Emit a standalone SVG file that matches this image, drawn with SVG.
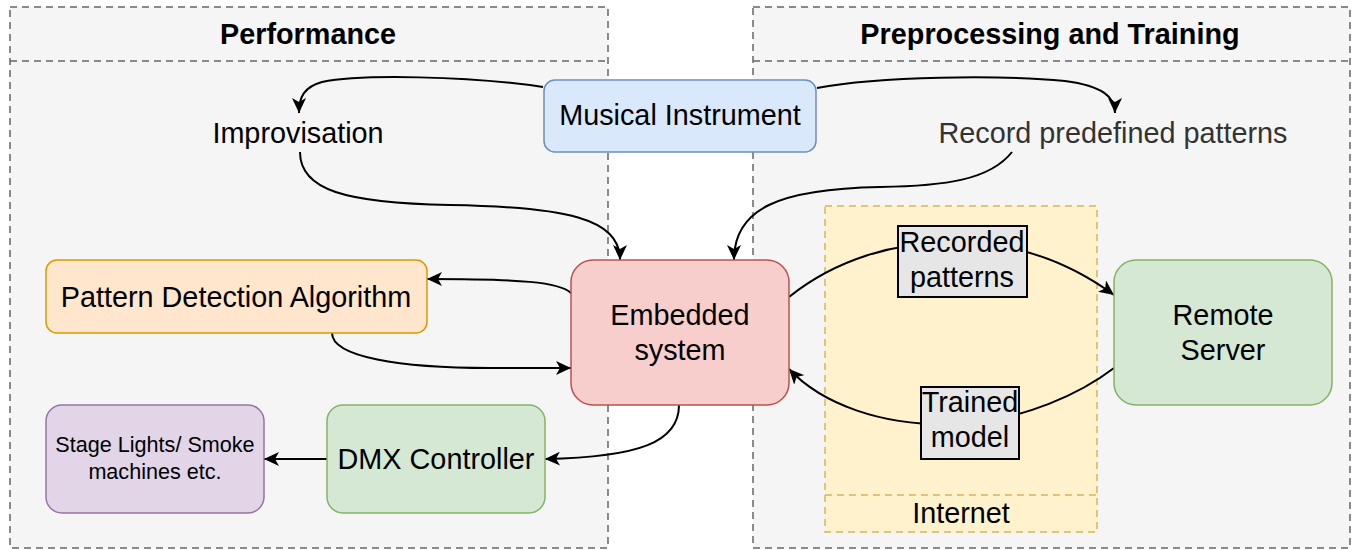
<svg xmlns="http://www.w3.org/2000/svg" width="1353" height="550" viewBox="0 0 1353 550">
  <style>
    .panel { fill: #f5f5f5; stroke: #666666; stroke-width: 1.5; stroke-dasharray: 7 5; }
    .title { font-family: "Liberation Sans", Arial, sans-serif; font-size: 28.8px; font-weight: bold; fill: #000; text-anchor: middle; }
    .txt { font-family: "Liberation Sans", Arial, sans-serif; font-size: 28.8px; fill: #000; text-anchor: middle; }
    .small { font-size: 21.6px; }
    .grey { fill: #333333; }
    .edge { fill: none; stroke: #000; stroke-width: 2; }
    .lbl { fill: #e6e6e6; stroke: #000; stroke-width: 2; }
    .net { fill: #fff2cc; stroke: #d6b656; stroke-width: 1.5; stroke-dasharray: 7 5; }
  </style>
  <defs>
    <marker id="arrow" markerUnits="userSpaceOnUse" markerWidth="16" markerHeight="14" viewBox="0 0 16 14" refX="15" refY="7" orient="auto">
      <path d="M0,0 L15,7 L0,14 L4,7 Z" fill="#000"/>
    </marker>
  </defs>

  <!-- swimlane: Performance -->
  <g id="lane-performance">
    <rect class="panel" x="10" y="7" width="598" height="541"/>
    <line x1="10" y1="61" x2="608" y2="61" stroke="#666666" stroke-width="1.5" stroke-dasharray="7 5"/>
    <text class="title" x="308" y="44">Performance</text>
  </g>

  <!-- swimlane: Preprocessing and Training -->
  <g id="lane-training">
    <rect class="panel" x="753" y="7" width="597" height="541"/>
    <line x1="753" y1="61" x2="1350" y2="61" stroke="#666666" stroke-width="1.5" stroke-dasharray="7 5"/>
    <text class="title" x="1050" y="44">Preprocessing and Training</text>
  </g>

  <!-- Internet container -->
  <g id="internet">
    <rect class="net" x="825" y="206" width="272" height="326"/>
    <line x1="825" y1="495" x2="1097" y2="495" stroke="#d6b656" stroke-width="1.5" stroke-dasharray="7 5"/>
    <text class="txt" x="961" y="523">Internet</text>
  </g>

  <!-- connectors -->
  <g id="connectors">
    <path class="edge" marker-end="url(#arrow)" d="M543,87 C470,76 360,74 322,82 C304,87 299,97 299,113"/>
    <path class="edge" marker-end="url(#arrow)" d="M817,88 C880,76 1000,75 1065,81 C1103,86 1115,97 1115,113"/>
    <path class="edge" marker-end="url(#arrow)" d="M300,152 C300,190 345,203 450,205 C565,207 620,218 620,260"/>
    <path class="edge" marker-end="url(#arrow)" d="M1012,152 C990,180 945,186 880,187 C780,189 734,208 734,260"/>
    <path class="edge" marker-end="url(#arrow)" d="M571,293 C560,282 520,279 427,279"/>
    <path class="edge" marker-end="url(#arrow)" d="M332,333 C332,357 400,368 490,368 L571,368"/>
    <path class="edge" marker-end="url(#arrow)" d="M679,405 C679,442 640,457 545,459"/>
    <path class="edge" marker-end="url(#arrow)" d="M327,459 L264,459"/>
    <path class="edge" marker-end="url(#arrow)" d="M789,297 C835,260 895,241 960,242 C1030,244 1080,270 1114,295"/>
    <path class="edge" marker-end="url(#arrow)" d="M1114,368 C1080,394 1025,419 962,424 C880,428 820,402 789,369"/>
  </g>

  <!-- edge labels -->
  <g id="label-recorded">
    <rect class="lbl" x="898" y="226" width="129" height="71"/>
    <text class="txt" x="962" y="252">Recorded</text>
    <text class="txt" x="962" y="287">patterns</text>
  </g>
  <g id="label-trained">
    <rect class="lbl" x="921" y="387" width="98" height="72"/>
    <text class="txt" x="970" y="412">Trained</text>
    <text class="txt" x="970" y="447">model</text>
  </g>

  <!-- nodes -->
  <g id="musical-instrument">
    <rect x="544" y="80" width="272" height="72" rx="11" fill="#dae8fc" stroke="#6c8ebf" stroke-width="1.5"/>
    <text class="txt" x="680" y="125">Musical Instrument</text>
  </g>
  <g id="improvisation">
    <text class="txt" x="298" y="143">Improvisation</text>
  </g>
  <g id="record-patterns">
    <text class="txt grey" x="1113" y="143">Record predefined patterns</text>
  </g>
  <g id="embedded-system">
    <rect x="571" y="260" width="218" height="145" rx="22" fill="#f8cecc" stroke="#b85450" stroke-width="1.5"/>
    <text class="txt" x="680" y="325">Embedded</text>
    <text class="txt" x="680" y="360">system</text>
  </g>
  <g id="pattern-detection">
    <rect x="46" y="260" width="381" height="73" rx="11" fill="#ffe6cc" stroke="#d79b00" stroke-width="1.5"/>
    <text class="txt" x="236" y="307">Pattern Detection Algorithm</text>
  </g>
  <g id="stage-lights">
    <rect x="46" y="405" width="218" height="108" rx="16" fill="#e1d5e7" stroke="#9673a6" stroke-width="1.5"/>
    <text class="txt small" x="155" y="452">Stage Lights/ Smoke</text>
    <text class="txt small" x="155" y="479">machines etc.</text>
  </g>
  <g id="dmx-controller">
    <rect x="327" y="405" width="218" height="108" rx="16" fill="#d5e8d4" stroke="#82b366" stroke-width="1.5"/>
    <text class="txt" x="436" y="469">DMX Controller</text>
  </g>
  <g id="remote-server">
    <rect x="1114" y="260" width="218" height="145" rx="22" fill="#d5e8d4" stroke="#82b366" stroke-width="1.5"/>
    <text class="txt" x="1223" y="325">Remote</text>
    <text class="txt" x="1223" y="360">Server</text>
  </g>
</svg>
